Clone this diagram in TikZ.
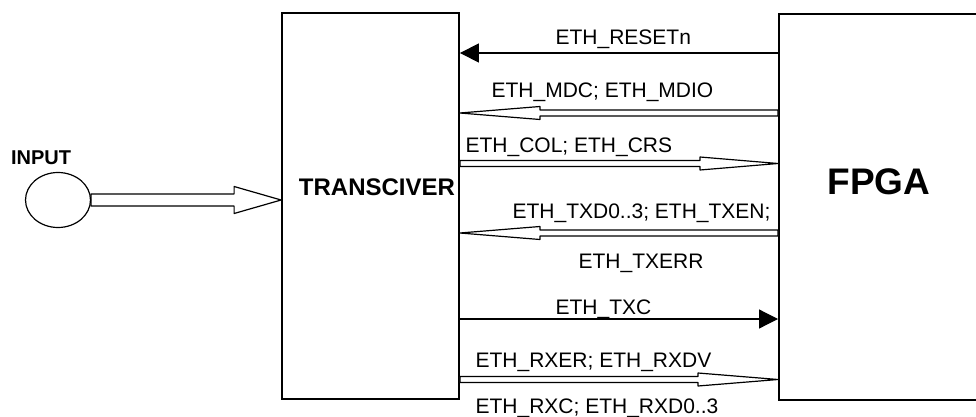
\documentclass[tikz,border=0pt]{standalone}
\usepackage{fontspec}
\setmainfont{Liberation Sans}
\usetikzlibrary{calc, arrows.meta, shapes.geometric}

% wide hollow arrow: tail, tip, half shaft, half head, head length
\newcommand{\busarrow}[5]{%
    \coordinate (bustail) at (#1);
    \coordinate (bustip) at (#2);
    \coordinate (bushead) at ($(bustip)!#5!(bustail)$);
    \draw[bus] ($(bustail)!#3!90:(bustip)$) -- ($(bushead)!#3!-90:(bustail)$)
        -- ($(bushead)!#4!-90:(bustail)$) -- (bustip)
        -- ($(bushead)!#4!90:(bustail)$) -- ($(bushead)!#3!90:(bustail)$)
        -- ($(bustail)!#3!-90:(bustip)$) -- cycle;
}

\begin{document}
\begin{tikzpicture}[x=1pt, y=-1pt, line width=1.2pt,
    box/.style={rectangle, draw, line width=1.8pt, inner sep=0pt},
    sig/.style={font=\fontsize{21}{25}\selectfont, anchor=base west, inner sep=0pt},
    bus/.style={draw, fill=white, line join=round},
    wire/.style={-{Triangle[length=19pt, width=19pt]}}]
    \useasboundingbox (0,0) rectangle (976,417);
    \clip (0,0) rectangle (976,417);

    % Nodes
    \node[box, minimum width=177pt, minimum height=386pt](trx) at (370.5,206) {};
    \node[font=\bfseries\fontsize{24}{28}\selectfont](trxname) at (377,187) {TRANSCIVER};
    \node[box, minimum width=240pt, minimum height=386pt, anchor=north west](fpga) at (778,13) {};
    \node[font=\bfseries\fontsize{37}{42}\selectfont](fpganame) at (879,182) {FPGA};
    \node[font=\bfseries\fontsize{20}{24}\selectfont](inputname) at (41,158) {INPUT};

    % Rows of the signals
    \coordinate (rst) at (0,53);
    \coordinate (mdc) at (0,113);
    \coordinate (col) at (0,163.5);
    \coordinate (txd) at (0,233);
    \coordinate (txc) at (0,319);
    \coordinate (rx) at (0,379.5);

    % Input
    \coordinate (inputend) at (91,200);
    \busarrow{inputend}{trx.west |- inputend}{6pt}{13.5pt}{47pt}
    \node[ellipse, draw, minimum width=65pt, minimum height=55pt, inner sep=0pt](input) at (58,200) {};

    % Arrows with text
    \draw[wire] (fpga.west |- rst) -- (trx.east |- rst);
    \node[sig](rstlbl) at (555,45) {ETH\_RESETn};

    \busarrow{fpga.west |- mdc}{trx.east |- mdc}{3pt}{6.5pt}{80pt}
    \node[sig](mdclbl) at (491,98) {ETH\_MDC; ETH\_MDIO};

    \busarrow{trx.east |- col}{fpga.west |- col}{3pt}{6.5pt}{78pt}
    \node[sig](collbl) at (465,152) {ETH\_COL; ETH\_CRS};

    \busarrow{fpga.west |- txd}{trx.east |- txd}{3pt}{6.5pt}{80pt}
    \node[sig](txdlbl) at (512,218) {ETH\_TXD0..3; ETH\_TXEN;};
    \node[sig](txerrlbl) at (578,268) {ETH\_TXERR};

    \draw[wire] (trx.east |- txc) -- (fpga.west |- txc);
    \node[sig](txclbl) at (555,314) {ETH\_TXC};

    \busarrow{trx.east |- rx}{fpga.west |- rx}{3pt}{6.5pt}{80pt}
    \node[sig](rxerlbl) at (475,367) {ETH\_RXER; ETH\_RXDV};
    \node[sig](rxclbl) at (475,413) {ETH\_RXC; ETH\_RXD0..3};

\end{tikzpicture}
\end{document}
